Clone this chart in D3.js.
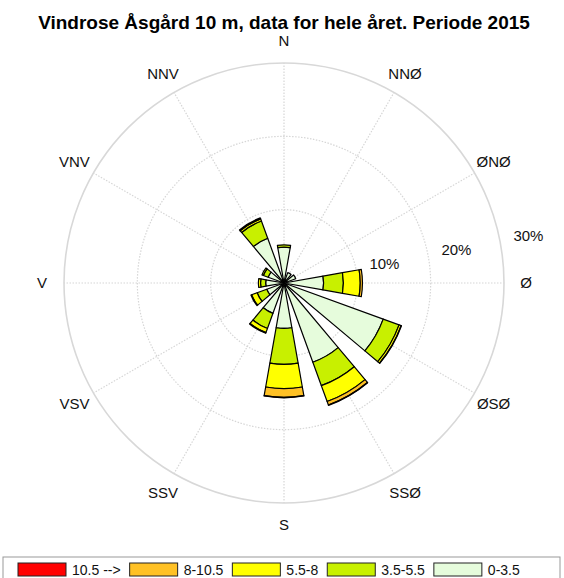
<!DOCTYPE html>
<html>
<head>
<meta charset="utf-8">
<script src="https://cdn.jsdelivr.net/npm/d3@7"></script>
<style>
  body { margin: 0; background: #fff; }
  text { font-family: "Liberation Sans", Arial, sans-serif; }
</style>
</head>
<body>
<div id="rose"></div>
<script>
// directions (clockwise from north, 30 deg apart)
const directions = ["N", "NNØ", "ØNØ", "Ø", "ØSØ", "SSØ", "S", "SSV", "VSV", "V", "VNV", "NNV"];
const dirAngles = [0, 30, 60, 90, 120, 150, 180, 210, 240, 270, 300, 330];

// speed classes (m/s), inner to outer
const speedClasses = ["0-3.5", "3.5-5.5", "5.5-8", "8-10.5", "10.5 -->"];
const classColors = ["#e6fcdc", "#c8f000", "#ffff00", "#ffc125", "#ff0000"];

// frequency (%) per direction for each speed class
const v0_35  = [4.9, 1.5, 1.7, 5.4, 14.4, 11.5, 6.2, 4.4, 2.5, 2.5, 2.3, 6.5];
const v35_55 = [0.3, 0,   0,   2.7, 2.3,  3.4,  4.9, 2.2, 1.4, 0.7, 0.7, 2.5];
const v55_8  = [0,   0,   0,   2.3, 0.3,  2.3,  3.3, 0.6, 0.8, 0.3, 0.2, 0.3];
const v8_105 = [0,   0,   0,   0.3, 0.05, 0.5,  1.2, 0.1, 0.1, 0,   0,   0.15];
const v105   = [0,   0,   0,   0,   0,    0.05, 0.05, 0,  0,   0,   0,   0];

const ringTicks = [10, 20, 30];
const legendOrder = [4, 3, 2, 1, 0];

const width = 564, height = 578;
const cx = 284, cy = 283;
const rMax = 220;

const svg = d3.select("#rose")
  .append("svg")
    .attr("width", width)
    .attr("height", height);

// title
svg.append("text")
  .attr("x", 284)
  .attr("y", 29)
  .attr("text-anchor", "middle")
  .style("font-size", "19px")
  .style("font-weight", "bold")
  .text("Vindrose Åsgård 10 m, data for hele året. Periode 2015");

const r = d3.scaleLinear().domain([0, 30]).range([0, rMax]);
const rad = d => d * Math.PI / 180;

const g = svg.append("g").attr("transform", "translate(" + cx + "," + cy + ")");

// grid: spokes
g.selectAll(".spoke")
  .data(dirAngles)
  .enter()
  .append("line")
    .attr("x1", 0).attr("y1", 0)
    .attr("x2", d => r(30) * Math.sin(rad(d)))
    .attr("y2", d => -r(30) * Math.cos(rad(d)))
    .attr("stroke", "#d6d6d6")
    .attr("stroke-width", 1.2)
    .attr("stroke-dasharray", "1.5,1.5");

// grid: rings
g.selectAll(".ring")
  .data(ringTicks)
  .enter()
  .append("circle")
    .attr("r", d => r(d))
    .attr("fill", "none")
    .attr("stroke", d => d === 30 ? "#d8d8d8" : "#d6d6d6")
    .attr("stroke-width", d => d === 30 ? 1.6 : 1.2)
    .attr("stroke-dasharray", d => d === 30 ? null : "1.5,1.5");

// stacked petals
const series = [v0_35, v35_55, v55_8, v8_105, v105];
const petalWidth = 20;
const arc = d3.arc();
const bands = [];
dirAngles.forEach((a, i) => {
  let base = 0;
  series.forEach((s, k) => {
    if (s[i] > 0) {
      bands.push({ angle: a, inner: base, outer: base + s[i], cls: k });
    }
    base += s[i];
  });
});

g.selectAll(".band")
  .data(bands)
  .enter()
  .append("path")
    .attr("d", d => arc({
      innerRadius: r(d.inner),
      outerRadius: r(d.outer),
      startAngle: rad(d.angle - petalWidth / 2),
      endAngle: rad(d.angle + petalWidth / 2)
    }))
    .attr("fill", d => classColors[d.cls])
    .attr("stroke", "#000")
    .attr("stroke-width", 1.2)
    .attr("stroke-linejoin", "round");

// direction labels
const labelR = 242;
svg.selectAll(".dir")
  .data(directions)
  .enter()
  .append("text")
    .attr("x", (d, i) => cx + labelR * Math.sin(rad(dirAngles[i])))
    .attr("y", (d, i) => cy - labelR * Math.cos(rad(dirAngles[i])))
    .attr("text-anchor", "middle")
    .attr("dy", "0.35em")
    .style("font-size", "15px")
    .style("fill", "#111")
    .text(d => d);

// ring labels
svg.selectAll(".ringlabel")
  .data(ringTicks)
  .enter()
  .append("text")
    .attr("x", d => cx + (r(d) + 29) * Math.sin(rad(79)))
    .attr("y", d => cy - (r(d) + 29) * Math.cos(rad(79)))
    .attr("text-anchor", "middle")
    .attr("dy", "0.35em")
    .style("font-size", "15px")
    .style("fill", "#111")
    .text(d => d + "%");

// legend
svg.append("rect")
  .attr("x", 3).attr("y", 557)
  .attr("width", 557).attr("height", 30)
  .attr("fill", "none")
  .attr("stroke", "#999")
  .attr("stroke-width", 1);

let lx = 18;
legendOrder.forEach(k => {
  svg.append("rect")
    .attr("x", lx).attr("y", 563)
    .attr("width", 48).attr("height", 13)
    .attr("fill", classColors[k])
    .attr("stroke", "#222")
    .attr("stroke-width", 1);
  const t = svg.append("text")
    .attr("x", lx + 54).attr("y", 575)
    .style("font-size", "14px")
    .style("fill", "#111")
    .text(speedClasses[k]);
  lx += 54 + t.node().getComputedTextLength() + 9;
});
</script>
</body>
</html>
